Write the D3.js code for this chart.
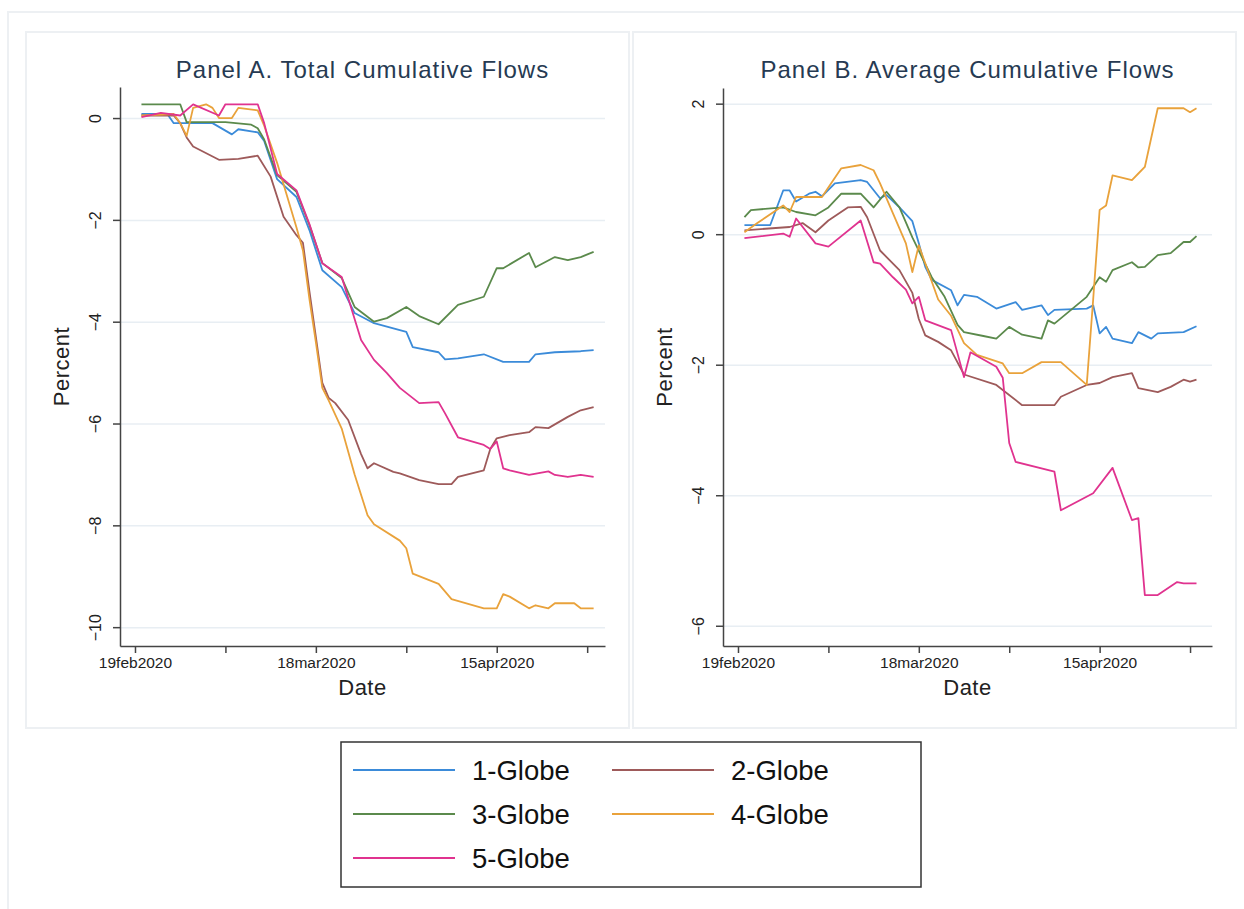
<!DOCTYPE html>
<html lang="en">
<head>
<meta charset="UTF-8">
<title>Cumulative Flows by Globe Rating</title>
<script src="https://d3js.org/d3.v7.min.js"></script>
<style>
  body { margin: 0; background: #fff; }
  svg text { font-family: "Liberation Sans", Arial, Helvetica, sans-serif; }
</style>
</head>
<body>
<div id="chart"></div>
<script>
// x values are days counted from 19feb2020
const seriesNames = ["1-Globe", "2-Globe", "3-Globe", "4-Globe", "5-Globe"];
const xTickDays = [0, 14, 28, 42, 56, 70];
const xTickLabels = ["19feb2020", "", "18mar2020", "", "15apr2020", ""];
const yTicksA = [0, -2, -4, -6, -8, -10];
const yTicksB = [2, 0, -2, -4, -6];

// Panel A. Total cumulative flows (percent)
const totalGlobe1 = [[1,0.08],[5,0.08],[6,-0.1],[12,-0.1],[15,-0.32],[16,-0.22],[19,-0.28],[20,-0.45],[22,-1.2],[25,-1.55],[27,-2.2],[29,-2.99],[32,-3.32],[34,-3.83],[37,-4.03],[42,-4.2],[43,-4.5],[47,-4.6],[48,-4.74],[50,-4.72],[54,-4.64],[57,-4.79],[61,-4.79],[62,-4.64],[65,-4.6],[69,-4.58],[71,-4.56]];
const totalGlobe2 = [[1,0.05],[6,0.05],[7,-0.1],[8,-0.38],[9,-0.56],[13,-0.82],[16,-0.8],[19,-0.74],[21,-1.15],[23,-1.94],[25,-2.3],[26,-2.45],[27,-3.4],[28,-4.3],[29,-5.2],[30,-5.5],[31,-5.6],[33,-5.93],[35,-6.6],[36,-6.88],[37,-6.78],[40,-6.95],[41,-6.98],[44,-7.11],[47,-7.19],[49,-7.19],[50,-7.05],[54,-6.92],[55,-6.5],[56,-6.29],[58,-6.23],[61,-6.17],[62,-6.07],[64,-6.09],[67,-5.87],[69,-5.74],[71,-5.68]];
const totalGlobe3 = [[1,0.27],[7,0.27],[8,-0.08],[14,-0.08],[18,-0.13],[19,-0.2],[20,-0.42],[22,-1.12],[25,-1.45],[27,-2.1],[29,-2.85],[32,-3.14],[34,-3.71],[37,-4.0],[39,-3.93],[42,-3.71],[44,-3.89],[47,-4.05],[50,-3.67],[54,-3.51],[56,-2.95],[57,-2.95],[61,-2.65],[62,-2.93],[65,-2.73],[67,-2.79],[69,-2.73],[71,-2.63]];
const totalGlobe4 = [[1,0.05],[6,0.08],[7,-0.1],[8,-0.35],[9,0.2],[11,0.27],[12,0.2],[13,0.0],[15,0.0],[16,0.2],[19,0.15],[20,-0.15],[22,-0.88],[25,-2.15],[26,-2.6],[27,-3.55],[28,-4.4],[29,-5.3],[30,-5.55],[32,-6.1],[34,-7.0],[36,-7.8],[37,-7.98],[41,-8.3],[42,-8.45],[43,-8.95],[47,-9.15],[49,-9.45],[54,-9.63],[56,-9.63],[57,-9.35],[58,-9.4],[61,-9.63],[62,-9.57],[64,-9.63],[65,-9.53],[68,-9.53],[69,-9.63],[71,-9.63]];
const totalGlobe5 = [[1,0.02],[4,0.1],[7,0.05],[9,0.27],[13,0.05],[14,0.27],[19,0.27],[20,-0.1],[22,-1.1],[25,-1.42],[27,-2.08],[29,-2.85],[32,-3.12],[35,-4.36],[37,-4.75],[39,-5.01],[41,-5.3],[44,-5.6],[47,-5.58],[48,-5.8],[50,-6.27],[54,-6.42],[55,-6.5],[56,-6.35],[57,-6.88],[58,-6.92],[61,-7.01],[64,-6.94],[65,-7.01],[67,-7.05],[69,-7.01],[71,-7.05]];

// Panel B. Average cumulative flows (percent)
const avgGlobe1 = [[1,0.14],[5,0.14],[7,0.67],[8,0.67],[9,0.5],[11,0.62],[12,0.65],[13,0.58],[15,0.78],[19,0.83],[20,0.8],[22,0.55],[23,0.6],[25,0.41],[27,0.2],[28,-0.14],[29,-0.5],[30,-0.7],[33,-0.86],[34,-1.09],[35,-0.93],[37,-0.96],[40,-1.14],[43,-1.04],[44,-1.16],[47,-1.09],[48,-1.24],[49,-1.16],[54,-1.14],[55,-1.09],[56,-1.52],[57,-1.42],[58,-1.6],[61,-1.67],[62,-1.5],[64,-1.6],[65,-1.52],[69,-1.5],[71,-1.41]];
const avgGlobe2 = [[1,0.06],[8,0.11],[10,0.17],[12,0.03],[14,0.21],[17,0.41],[19,0.42],[20,0.26],[22,-0.25],[25,-0.55],[27,-0.9],[28,-1.3],[29,-1.55],[31,-1.65],[33,-1.78],[35,-2.15],[40,-2.31],[44,-2.62],[49,-2.62],[50,-2.49],[54,-2.31],[56,-2.28],[58,-2.19],[61,-2.13],[62,-2.36],[65,-2.42],[67,-2.34],[69,-2.23],[70,-2.26],[71,-2.23]];
const avgGlobe3 = [[1,0.26],[2,0.37],[7,0.41],[9,0.34],[12,0.29],[14,0.41],[16,0.62],[19,0.62],[21,0.41],[23,0.65],[25,0.41],[27,-0.05],[30,-0.66],[32,-0.96],[34,-1.39],[35,-1.5],[38,-1.56],[40,-1.6],[42,-1.42],[44,-1.54],[47,-1.6],[48,-1.32],[49,-1.37],[54,-0.96],[56,-0.66],[57,-0.73],[58,-0.55],[61,-0.43],[62,-0.51],[63,-0.5],[65,-0.32],[67,-0.29],[69,-0.12],[70,-0.12],[71,-0.03]];
const avgGlobe4 = [[1,0.03],[3,0.17],[7,0.44],[8,0.34],[9,0.57],[13,0.57],[16,1.01],[19,1.06],[21,0.98],[22,0.78],[24,0.32],[26,-0.14],[27,-0.58],[28,-0.17],[31,-1.0],[33,-1.25],[35,-1.67],[37,-1.85],[41,-1.98],[42,-2.13],[44,-2.13],[47,-1.96],[50,-1.96],[54,-2.31],[55,-1.0],[56,0.37],[57,0.44],[58,0.9],[61,0.83],[62,0.93],[63,1.03],[65,1.93],[69,1.93],[70,1.87],[71,1.93]];
const avgGlobe5 = [[1,-0.06],[7,0.01],[8,-0.04],[9,0.24],[12,-0.14],[14,-0.19],[19,0.21],[21,-0.43],[22,-0.45],[24,-0.66],[26,-0.85],[27,-1.06],[28,-0.96],[29,-1.32],[33,-1.47],[35,-2.19],[36,-1.81],[40,-2.03],[41,-2.2],[42,-3.2],[43,-3.49],[49,-3.64],[50,-4.23],[55,-3.97],[58,-3.58],[61,-4.38],[62,-4.35],[63,-5.53],[65,-5.53],[68,-5.33],[69,-5.35],[71,-5.35]];

const colors = ["#3b8bd9", "#9e5a5a", "#5b8a4c", "#e9a23b", "#e0338f"];
const W = 1244, H = 909;

const svg = d3.select("#chart").append("svg")
  .attr("width", W).attr("height", H)
  .style("display", "block");

svg.append("rect").attr("width", W).attr("height", H).attr("fill", "#fff");

// outer frame (only top and left edges are visible)
svg.append("path")
  .attr("d", `M8,${H} V12 H${W}`)
  .attr("fill", "none").attr("stroke", "#edf0f3").attr("stroke-width", 2);

function drawPanel(cfg) {
  const g = svg.append("g");

  g.append("rect")
    .attr("x", cfg.box[0]).attr("y", cfg.box[1])
    .attr("width", cfg.box[2]).attr("height", cfg.box[3])
    .attr("fill", "#fff").attr("stroke", "#edf0f3").attr("stroke-width", 2);

  const x = d3.scaleLinear().domain(cfg.xDomain).range([cfg.left, cfg.right]);
  const y = d3.scaleLinear().domain(cfg.yDomain).range([cfg.bottom, cfg.top]);

  // grid lines
  const grid = g.append("g").attr("transform", `translate(${cfg.left},0)`)
    .call(d3.axisLeft(y).tickValues(cfg.yTicks).tickSize(-(cfg.right - cfg.left)).tickFormat(""));
  grid.select(".domain").remove();
  grid.selectAll("line").attr("stroke", "#e8eef3").attr("stroke-width", 1.5);

  // y axis
  const gy = g.append("g").attr("transform", `translate(${cfg.left},0)`)
    .call(d3.axisLeft(y).tickValues(cfg.yTicks).tickSize(7).tickSizeOuter(0));
  gy.select(".domain").attr("stroke", "#444").attr("stroke-width", 1.5);
  gy.selectAll(".tick line").attr("stroke", "#444").attr("stroke-width", 1.5);
  gy.selectAll(".tick text")
    .attr("transform", "rotate(-90)")
    .attr("x", 0).attr("y", -19).attr("dy", 0)
    .attr("text-anchor", "middle")
    .attr("fill", "#222").style("font-size", "16px");

  // x axis
  const gx = g.append("g").attr("transform", `translate(0,${cfg.bottom})`)
    .call(d3.axisBottom(x).tickValues(xTickDays).tickFormat((d, i) => xTickLabels[i]).tickSize(7).tickSizeOuter(0));
  gx.select(".domain").attr("stroke", "#444").attr("stroke-width", 1.5);
  gx.selectAll(".tick line").attr("stroke", "#444").attr("stroke-width", 1.5);
  gx.selectAll(".tick text").attr("y", 11).attr("dy", "0.71em")
    .attr("fill", "#222").style("font-size", "15.5px");

  // axis titles
  g.append("text")
    .attr("x", (cfg.left + cfg.right) / 2).attr("y", cfg.bottom + 49)
    .attr("text-anchor", "middle").attr("fill", "#222")
    .style("font-size", "22px").style("letter-spacing", "0.5px")
    .text("Date");
  g.append("text")
    .attr("transform", `translate(${cfg.left - 51},${(cfg.top + cfg.bottom) / 2}) rotate(-90)`)
    .attr("text-anchor", "middle").attr("fill", "#222")
    .style("font-size", "22px").style("letter-spacing", "0.5px")
    .text("Percent");

  // panel title
  g.append("text")
    .attr("x", (cfg.left + cfg.right) / 2).attr("y", 78)
    .attr("text-anchor", "middle").attr("fill", "#263a52")
    .style("font-size", "24px").style("letter-spacing", "1px")
    .text(cfg.title);

  const line = d3.line().x(d => x(d[0])).y(d => y(d[1]));
  g.append("g").selectAll("path")
    .data(cfg.series)
    .join("path")
    .attr("d", d => line(d))
    .attr("fill", "none")
    .attr("stroke", (d, i) => colors[i])
    .attr("stroke-width", 1.8)
    .attr("stroke-linejoin", "round");
}

drawPanel({
  title: "Panel A. Total Cumulative Flows",
  box: [26, 32, 603, 696],
  left: 120, right: 605, top: 87, bottom: 646,
  xDomain: [-2.32, 72.76],
  yDomain: [-10.37, 0.61],
  yTicks: yTicksA,
  series: [totalGlobe1, totalGlobe2, totalGlobe3, totalGlobe4, totalGlobe5]
});

drawPanel({
  title: "Panel B. Average Cumulative Flows",
  box: [633, 32, 603, 696],
  left: 723, right: 1212, top: 88, bottom: 646,
  xDomain: [-2.32, 73.4],
  yDomain: [-6.31, 2.24],
  yTicks: yTicksB,
  series: [avgGlobe1, avgGlobe2, avgGlobe3, avgGlobe4, avgGlobe5]
});

// legend
const legend = svg.append("g");
legend.append("rect")
  .attr("x", 341).attr("y", 742).attr("width", 580).attr("height", 145)
  .attr("fill", "#fff").attr("stroke", "#333").attr("stroke-width", 1.5);

const colX = [353, 612];
const rowY = [770, 814, 858];
const items = legend.selectAll("g.item")
  .data(seriesNames)
  .join("g")
  .attr("class", "item")
  .attr("transform", (d, i) => `translate(${colX[i % 2]},${rowY[Math.floor(i / 2)]})`);
items.append("line")
  .attr("x1", 0).attr("x2", 102).attr("y1", 0).attr("y2", 0)
  .attr("stroke", (d, i) => colors[i]).attr("stroke-width", 1.8);
items.append("text")
  .attr("x", 119).attr("dy", "0.36em")
  .attr("fill", "#111").style("font-size", "27.5px")
  .text(d => d);
</script>
</body>
</html>
